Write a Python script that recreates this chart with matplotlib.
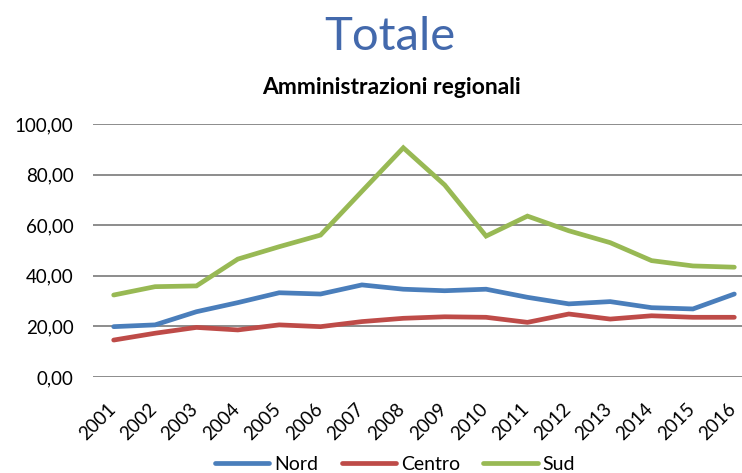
import matplotlib
matplotlib.use("Agg")
import matplotlib.pyplot as plt
import matplotlib.transforms as mtransforms

years = ["2001", "2002", "2003", "2004", "2005", "2006", "2007", "2008",
         "2009", "2010", "2011", "2012", "2013", "2014", "2015", "2016"]
nord = [19.9, 20.6, 25.8, 29.4, 33.3, 32.8, 36.4, 34.7,
        34.1, 34.7, 31.5, 28.9, 29.8, 27.4, 26.9, 32.8]
centro = [14.6, 17.3, 19.6, 18.6, 20.6, 19.9, 21.9, 23.2,
          23.8, 23.6, 21.6, 24.9, 22.9, 24.2, 23.6, 23.6]
sud = [32.4, 35.7, 36.0, 46.6, 51.5, 56.1, 73.4, 90.6,
       75.9, 55.7, 63.6, 57.8, 53.1, 46.0, 43.9, 43.4]
series_names = ["Nord", "Centro", "Sud"]
colors = ["#4A7EBB", "#BE4B48", "#98B954"]
yticks = [0, 20, 40, 60, 80, 100]
ytick_labels = ["0,00", "20,00", "40,00", "60,00", "80,00", "100,00"]

plt.rcParams['font.family'] = ['Lato', 'DejaVu Sans']

W, H = 742, 473
fig = plt.figure(figsize=(W / 100, H / 100), dpi=100)
ax = fig.add_axes([93 / W, 1 - 377 / H, (755 - 93) / W, (377 - 124) / H])

x = list(range(len(years)))
for name, vals, c in zip(series_names, [nord, centro, sud], colors):
    ax.plot(x, vals, color=c, lw=3.4, solid_capstyle='round',
            solid_joinstyle='miter', label=name, zorder=3)

ax.set_xlim(-0.5, len(years) - 0.5)
ax.set_ylim(0, 100)
ax.set_yticks(yticks)
ax.set_yticklabels(ytick_labels, fontsize=13.5)
ax.set_xticks(x)
ax.set_xticklabels(years, fontsize=13.5, rotation=45, ha='right')
ax.tick_params(axis='both', length=0, colors='black')
ax.tick_params(axis='y', pad=14)
ax.tick_params(axis='x', pad=17)
offset = mtransforms.ScaledTranslation(5 / 100, 0, fig.dpi_scale_trans)
for lbl in ax.get_xticklabels():
    lbl.set_transform(lbl.get_transform() + offset)

for s in ax.spines.values():
    s.set_visible(False)
ax.yaxis.grid(True, color='#8C8C8C', lw=1.4)
ax.set_axisbelow(True)

fig.text(390 / W, 1 - 50 / H, "Totale", fontsize=34, color='#4369AC',
         ha='center', va='baseline')
fig.text(391 / W, 1 - 94 / H, "Amministrazioni regionali", fontsize=16.5,
         fontweight='bold', ha='center', va='baseline')

leg = fig.legend(loc='center', bbox_to_anchor=(395 / W, 1 - 464 / H), ncol=3,
                 frameon=False, fontsize=14, handlelength=2.8,
                 handletextpad=0.25, columnspacing=1.2)
for h in leg.get_lines():
    h.set_linewidth(3.4)
    h.set_solid_capstyle('round')

fig.savefig("out.png", dpi=100)
